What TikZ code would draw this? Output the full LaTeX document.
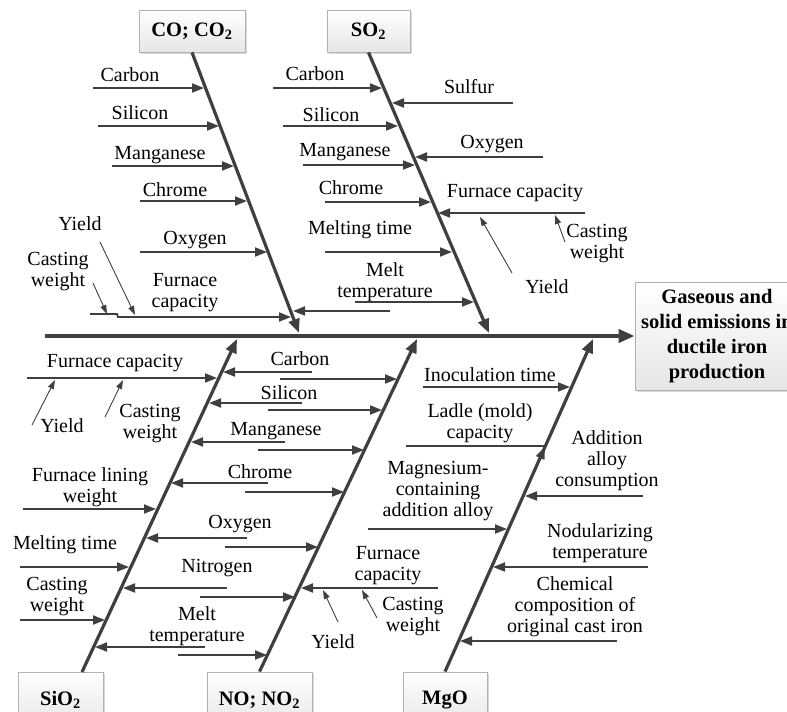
\documentclass[tikz,border=0pt]{standalone}
\usepackage{fontspec}
\setmainfont{Liberation Serif}
\usetikzlibrary{arrows.meta,shadows}
\definecolor{linegray}{HTML}{3F3F3F}
\definecolor{boxgray}{HTML}{E6E6E6}
\tikzset{
  spine/.style={line width=4.5pt, draw=linegray, -{Triangle[length=16pt,width=13pt]}},
  bone/.style={line width=3.2pt, draw=linegray, -{Triangle[length=14pt,width=11pt]}},
  cause/.style={line width=1.8pt, draw=linegray, -{Triangle[length=12pt,width=9pt]}},
  bare/.style={line width=1.8pt, draw=linegray},
  subcause/.style={line width=0.9pt, draw=linegray, -{Triangle[length=9pt,width=6pt]}},
  lbl/.style={font=\fontsize{20}{21}\selectfont, align=center, inner sep=0pt},
  catbox/.style={draw=gray!60, line width=0.8pt, top color=white, bottom color=boxgray,
    drop shadow={shadow xshift=2pt, shadow yshift=-2pt, opacity=0.3},
    font=\fontsize{20.5}{25}\selectfont\bfseries, align=center, inner sep=0pt, minimum height=42pt},
  effbox/.style={catbox, minimum width=164pt, minimum height=108pt}
}
\begin{document}
\begin{tikzpicture}[x=1pt,y=-1pt]
\useasboundingbox (0,0) rectangle (787,712);
\clip (0,0) rectangle (787,712);
% boxes
\node[effbox] (effect) at (717,336) {Gaseous and\\solid emissions in\\ductile iron\\production};
\node[catbox, minimum width=106pt] (co) at (192,31) {CO; CO\textsubscript{2}};
\node[catbox, minimum width=83pt] (so) at (368.5,31) {SO\textsubscript{2}};
\node[catbox, minimum width=85pt, minimum height=56pt] (sio) at (60.5,700) {SiO\textsubscript{2}};
\node[catbox, minimum width=105pt, minimum height=56pt] (no) at (259.5,700) {NO; NO\textsubscript{2}};
\node[catbox, minimum width=84pt, minimum height=56pt] (mgo) at (445,700) {MgO};
% spine and bones
\coordinate (tail) at (45,336);
\draw[spine] (tail) -- (effect.west);
\coordinate (co-end) at (299,333); \draw[bone] (co.south) -- (co-end);
\coordinate (so-end) at (489,333); \draw[bone] (so.south) -- (so-end);
\coordinate (sio-top) at (82,672); \coordinate (sio-end) at (237,339); \draw[bone] (sio-top) -- (sio-end);
\coordinate (no-end) at (417,339); \draw[bone] (no.north) -- (no-end);
\coordinate (mgo-end) at (593,339); \draw[bone] (mgo.north) -- (mgo-end);
% CO; CO2
\foreach \n/\t/\lx/\ly/\xa/\xb/\y in {
  1/Carbon/130/75/93/204/88, 2/Silicon/140/113/98/219/126, 3/Manganese/160/155/112/234/166,
  4/Chrome/175/190/140/247/201, 5/Oxygen/195/240/140/267/252}
  {\node[lbl] (co-\n) at (\lx,\ly) {\t}; \draw[cause] (\xa,\y) -- (\xb,\y);}
\node[lbl] (co-6) at (185,293) {Furnace\\capacity};
\draw[cause] (90,314) -- (117,314) -- (118,317) -- (291,317);
\node[lbl] (co-7) at (80,224) {Yield}; \draw[subcause] (100,242) -- (135,315);
\node[lbl] (co-8) at (58,272) {Casting\\weight}; \draw[subcause] (93,283) -- (107,314);
% SO2
\foreach \n/\t/\lx/\ly/\xa/\xb/\y in {
  1/Carbon/315/74/273/382/88, 2/Sulfur/469/87/513/392/103, 3/Silicon/331/115/283/398/126,
  4/Oxygen/492/144/543/415/157, 5/Manganese/345/152/303/415/165, 6/Chrome/351/188/325/431/202,
  7/Furnace capacity/515/193/585/438/213, 8/Melting time/360/230/325/452/252}
  {\node[lbl] (so-\n) at (\lx,\ly) {\t}; \draw[cause] (\xa,\y) -- (\xb,\y);}
\node[lbl] (so-9) at (385,282) {Melt\\temperature};
\draw[cause] (355,302) -- (474,302); \draw[cause] (390,311) -- (293,311);
\node[lbl] (so-10) at (597,244) {Casting\\weight}; \draw[subcause] (565,242) -- (555,215);
\node[lbl] (so-11) at (547,287) {Yield}; \draw[subcause] (512,273) -- (480,217);
% SiO2
\foreach \n/\t/\lx/\ly/\xa/\xb/\y in {
  1/Furnace capacity/115/363/27/217/378, 2/{Furnace lining\\weight}/90/487/23/156/509,
  3/Melting time/65/545/20/129/567, 4/{Casting\\weight}/57/597/20/105/620}
  {\node[lbl] (sio-\n) at (\lx,\ly) {\t}; \draw[cause] (\xa,\y) -- (\xb,\y);}
\node[lbl] (sio-5) at (62,426) {Yield}; \draw[subcause] (32,425) -- (55,380);
\node[lbl] (sio-6) at (150,424) {Casting\\weight}; \draw[subcause] (105,417) -- (123,380);
% shared between SiO2 and NO; NO2
\foreach \n/\t/\tx/\ty/\la/\lb/\lyy/\ra/\rb/\ry in {
  1/Carbon/300/359/312/223/372/280/397/379, 2/Silicon/289/393/302/209/403/268/382/410,
  3/Manganese/276/431/285/191/442/258/364/450, 4/Chrome/260/472/268/171/483/245/344/492,
  5/Oxygen/240/524/247/146/538/225/318/547, 6/Nitrogen/217/568/227/123/588/200/295/597,
  7/{Melt\\temperature}/197/626/205/95/647/178/267/655}
  {\node[lbl] (mid-\n) at (\tx,\ty) {\t}; \draw[cause] (\la,\lyy) -- (\lb,\lyy); \draw[cause] (\ra,\ry) -- (\rb,\ry);}
% NO; NO2
\node[lbl] (no-1) at (388,566) {Furnace\\capacity}; \draw[cause] (438,588) -- (301,588);
\node[lbl] (no-2) at (333,642) {Yield}; \draw[subcause] (338,622) -- (323,590);
\node[lbl] (no-3) at (413,617) {Casting\\weight}; \draw[subcause] (377,618) -- (362,590);
% MgO
\foreach \n/\t/\lx/\ly/\xa/\xb/\y in {
  1/Inoculation time/490/375/423/570/387, 2/{Addition\\alloy\\consumption}/607/461/643/525/496,
  3/{Magnesium-\\containing\\addition alloy}/438/491/368/507/529, 4/{Nodularizing\\temperature}/600/543/648/493/567,
  5/{Chemical\\composition of\\original cast iron}/575/607/617/460/641}
  {\node[lbl] (mgo-\n) at (\lx,\ly) {\t}; \draw[cause] (\xa,\y) -- (\xb,\y);}
\node[lbl] (mgo-6) at (480,423) {Ladle (mold)\\capacity}; \draw[bare] (406,446) -- (545,446);
\draw[cause] (538.3,462) -- (545,447);
\end{tikzpicture}
\end{document}
